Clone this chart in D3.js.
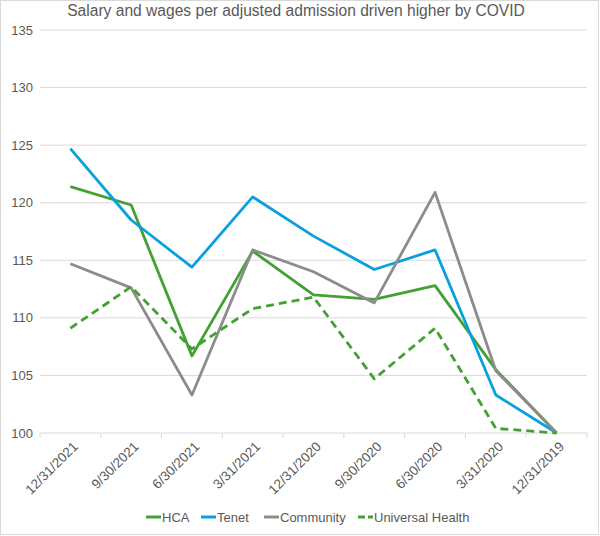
<!DOCTYPE html>
<html>
<head>
<meta charset="utf-8">
<script src="https://cdn.jsdelivr.net/npm/d3@7"></script>
<style>
  body { margin: 0; background: #fff; }
  text { font-family: "Liberation Sans", Arial, sans-serif; }
</style>
</head>
<body>
<svg width="600" height="536"></svg>
<script>
var categories = ["12/31/2021", "9/30/2021", "6/30/2021", "3/31/2021", "12/31/2020", "9/30/2020", "6/30/2020", "3/31/2020", "12/31/2019"];
var hca = [121.4, 119.8, 106.7, 115.8, 112.0, 111.6, 112.8, 105.5, 100];
var tenet = [124.7, 118.5, 114.4, 120.5, 117.1, 114.2, 115.9, 103.3, 100];
var community = [114.7, 112.6, 103.3, 115.9, 114.0, 111.3, 120.9, 105.4, 100];
var universal = [109.1, 112.7, 107.3, 110.8, 111.8, 104.7, 109.1, 100.4, 100];
var yTicks = [100, 105, 110, 115, 120, 125, 130, 135];

var series = [
  { name: "HCA", values: hca, color: "#43a033", dash: null },
  { name: "Tenet", values: tenet, color: "#0a9fdf", dash: null },
  { name: "Community", values: community, color: "#8c8c8c", dash: null },
  { name: "Universal Health", values: universal, color: "#43a033", dash: "8,5" }
];

var svg = d3.select("svg"),
  margin = { top: 30, right: 13, bottom: 103, left: 40 },
  width = +svg.attr("width") - margin.left - margin.right,
  height = +svg.attr("height") - margin.top - margin.bottom;

// chart border
svg.append("rect")
  .attr("x", 0.5).attr("y", 0.5)
  .attr("width", 598).attr("height", 534)
  .attr("fill", "none").attr("stroke", "#d9d9d9");

svg.append("text")
  .attr("x", 296).attr("y", 16)
  .attr("text-anchor", "middle")
  .attr("font-size", 15.6)
  .attr("fill", "#595959")
  .text("Salary and wages per adjusted admission driven higher by COVID");

var x = d3.scaleBand().domain(categories).range([0, width]);
var y = d3.scaleLinear().domain([100, 135]).range([height, 0]);

var g = svg.append("g")
  .attr("transform", "translate(" + margin.left + "," + margin.top + ")");

// gridlines
g.selectAll(".grid")
  .data(yTicks.slice(1))
  .enter().append("line")
  .attr("x1", 0).attr("x2", width)
  .attr("y1", function (d) { return y(d); })
  .attr("y2", function (d) { return y(d); })
  .attr("stroke", "#d9d9d9").attr("stroke-width", 1);

// y labels
g.selectAll(".ylab")
  .data(yTicks)
  .enter().append("text")
  .attr("x", -7)
  .attr("y", function (d) { return y(d); })
  .attr("dy", "0.35em")
  .attr("text-anchor", "end")
  .attr("font-size", 13)
  .attr("fill", "#595959")
  .text(function (d) { return d; });

// x axis
var xa = g.append("g").attr("transform", "translate(0," + height + ")");
xa.append("line").attr("x1", 0).attr("x2", width).attr("stroke", "#d9d9d9");
xa.selectAll(".tick")
  .data(categories.concat([null]))
  .enter().append("line")
  .attr("x1", function (d, i) { return i * x.step(); })
  .attr("x2", function (d, i) { return i * x.step(); })
  .attr("y1", 0).attr("y2", 5)
  .attr("stroke", "#d9d9d9");
xa.selectAll(".xlab")
  .data(categories)
  .enter().append("text")
  .attr("transform", function (d) {
    return "translate(" + (x(d) + x.bandwidth() / 2 + 5) + ",11) rotate(-45)";
  })
  .attr("text-anchor", "end")
  .attr("dy", "0.35em")
  .attr("font-size", 13.5)
  .attr("fill", "#595959")
  .text(function (d) { return d; });

var line = d3.line()
  .x(function (d, i) { return x(categories[i]) + x.bandwidth() / 2; })
  .y(function (d) { return y(d); });

series.forEach(function (s) {
  g.append("path")
    .datum(s.values)
    .attr("fill", "none")
    .attr("stroke", s.color)
    .attr("stroke-width", 2.8)
    .attr("stroke-dasharray", s.dash)
    .attr("stroke-linejoin", "round")
    .attr("d", line);
});

// legend
var legendX = [146, 201, 264, 358];
var lg = svg.append("g").attr("transform", "translate(0,517)");
series.forEach(function (s, i) {
  var it = lg.append("g").attr("transform", "translate(" + legendX[i] + ",0)");
  it.append("line")
    .attr("x1", 0).attr("x2", 15)
    .attr("stroke", s.color).attr("stroke-width", 3)
    .attr("stroke-dasharray", s.dash ? "7,3" : null);
  it.append("text")
    .attr("x", 16).attr("dy", "0.35em")
    .attr("font-size", 13)
    .attr("fill", "#595959")
    .text(s.name);
});
</script>
</body>
</html>
